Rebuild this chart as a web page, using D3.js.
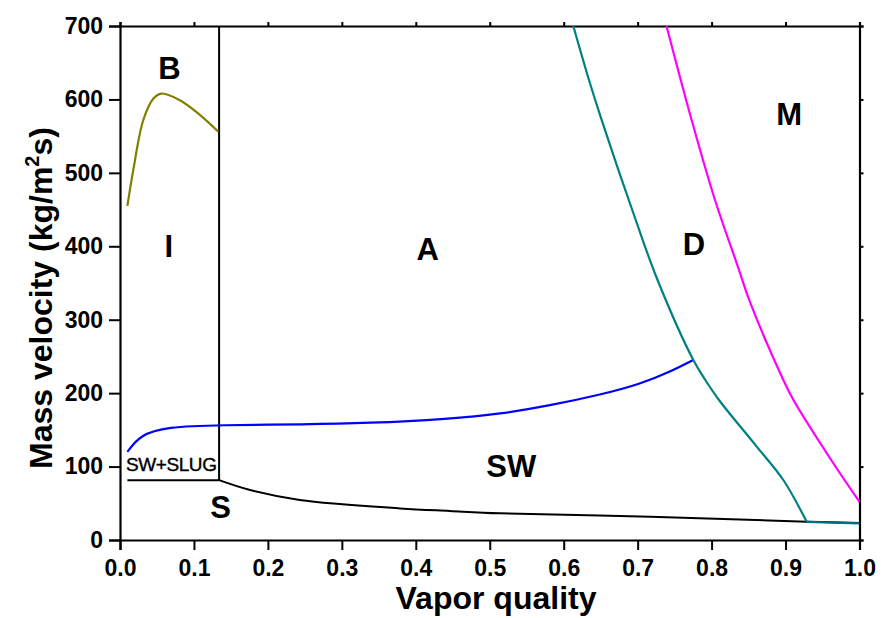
<!DOCTYPE html>
<html><head><meta charset="utf-8">
<script src="https://cdn.jsdelivr.net/npm/d3@7"></script>
<style>body{margin:0;background:#fff}svg{display:block}text{font-family:Arial,"Liberation Sans",sans-serif}</style>
</head><body>
<svg id="c" width="882" height="618"></svg>
<script>
const xTicks = [0.0,0.1,0.2,0.3,0.4,0.5,0.6,0.7,0.8,0.9,1.0];
const yTicks = [0,100,200,300,400,500,600,700];
// boundary curves [vapor quality, mass velocity]
const oliveCurve = [[0.01,455],[0.018,504],[0.0315,572],[0.045,601],[0.056,608],[0.081,599],[0.108,579],[0.133,556]];
const blueCurve = [[0.01,120],[0.027,143],[0.063,154],[0.134,156.6],[0.25,157.3],[0.334,159],[0.446,165],[0.514,171.5],[0.581,183],[0.65,198],[0.703,212],[0.748,231],[0.775,245]];
const tealCurve = [[0.613,700],[0.6342,626.4],[0.6514,571.9],[0.6974,435.8],[0.7269,354.1],[0.7753,245.1],[0.7915,217.9],[0.81,190.7],[0.861,127.2],[0.897,81.7],[0.9286,24.8]];
const tealTail = [[0.9286,24.8],[1.0,22.7]];
const magentaCurve = [[0.739,700],[0.773,572],[0.8046,463],[0.837,368],[0.8508,327],[0.897,218],[0.9105,191],[0.9646,104.5],[1.0,52]];
const blackCurve = [[0.134,81.5],[0.176,68],[0.243,54.5],[0.379,43],[0.446,39.5],[0.514,36.3],[0.717,31.8],[0.9286,25],[1.0,23]];
const slugLine = [[0.01,81.5],[0.134,81.5]];
const verticalLine = [[0.134,81.5],[0.134,700]];
const regionLabels = [
  {t:"B",x:0.067,y:628},{t:"I",x:0.066,y:385},{t:"A",x:0.416,y:382},{t:"D",x:0.776,y:388},
  {t:"M",x:0.905,y:565},{t:"SW",x:0.529,y:86},{t:"S",x:0.136,y:30}
];

const svg = d3.select("#c");
const L=120,R=859.5,T=26,B=540;
const x = d3.scaleLinear().domain([0,1]).range([L,R]);
const y = d3.scaleLinear().domain([0,700]).range([B,T]);
const fmtX = d3.format(".1f");

const bottom = svg.append("g").attr("transform",`translate(0,${B})`)
  .call(d3.axisBottom(x).tickValues(xTicks).tickFormat(fmtX).tickSizeOuter(0).tickSize(10).tickPadding(6));
const left = svg.append("g").attr("transform",`translate(${L},0)`)
  .call(d3.axisLeft(y).tickValues(yTicks).tickSizeOuter(0).tickSize(11).tickPadding(6));
svg.append("g").attr("transform",`translate(0,${T})`)
  .call(d3.axisTop(x).tickValues(xTicks).tickFormat("").tickSizeOuter(0).tickSize(4));
svg.append("g").attr("transform",`translate(${R},0)`)
  .call(d3.axisRight(y).tickValues(yTicks).tickFormat("").tickSizeOuter(0).tickSize(4));
svg.selectAll(".domain").attr("stroke","#000").attr("stroke-width",2.2);
svg.selectAll(".tick line").attr("stroke","#000").attr("stroke-width",2);
svg.selectAll(".tick text").attr("font-size",23).attr("font-weight","bold").attr("fill","#000")
  .attr("font-family","Arial, 'Liberation Sans', sans-serif");
bottom.selectAll(".tick text").attr("dy","0.85em");

const line = d3.line().x(d=>x(d[0])).y(d=>y(d[1]));
const smooth = d3.line().x(d=>x(d[0])).y(d=>y(d[1])).curve(d3.curveBasis);
const cr = d3.line().x(d=>x(d[0])).y(d=>y(d[1])).curve(d3.curveCatmullRom.alpha(0.5));
const g = svg.append("g").attr("fill","none").attr("stroke-linecap","butt");
g.append("path").datum(blackCurve).attr("d",cr).attr("stroke","#000").attr("stroke-width",2);
g.append("path").datum(slugLine).attr("d",line).attr("stroke","#000").attr("stroke-width",2);
g.append("path").datum(verticalLine).attr("d",line).attr("stroke","#000").attr("stroke-width",2);
g.append("path").datum(oliveCurve).attr("d",cr).attr("stroke","#808000").attr("stroke-width",2.2);
g.append("path").datum(blueCurve).attr("d",smooth).attr("stroke","#0000ff").attr("stroke-width",2.2);
g.append("path").datum(tealCurve).attr("d",cr).attr("stroke","#008080").attr("stroke-width",2.2);
g.append("path").datum(tealTail).attr("d",line).attr("stroke","#007080").attr("stroke-width",2.2);
g.append("path").datum(magentaCurve).attr("d",cr).attr("stroke","#ff00ff").attr("stroke-width",2.2);

svg.append("g").selectAll("text").data(regionLabels).join("text")
  .attr("x",d=>x(d.x)).attr("y",d=>y(d.y)).attr("text-anchor","middle")
  .attr("font-size",31).attr("font-weight","bold").text(d=>d.t);
svg.append("text").attr("x",x(0.008)).attr("y",y(94)).attr("font-size",19)
  .attr("letter-spacing",-0.4).attr("stroke","#000").attr("stroke-width",0.4).text("SW+SLUG");

svg.append("text").attr("x",496).attr("y",609).attr("text-anchor","middle")
  .attr("font-size",32).attr("font-weight","bold").text("Vapor quality");
const yt = svg.append("text").attr("transform","translate(52,298) rotate(-90)").attr("text-anchor","middle")
  .attr("font-size",32).attr("font-weight","bold");
yt.append("tspan").text("Mass velocity (kg/m");
yt.append("tspan").attr("font-size",20).attr("dy",-13).text("2");
yt.append("tspan").attr("dy",13).text("s)");
</script>
</body></html>
